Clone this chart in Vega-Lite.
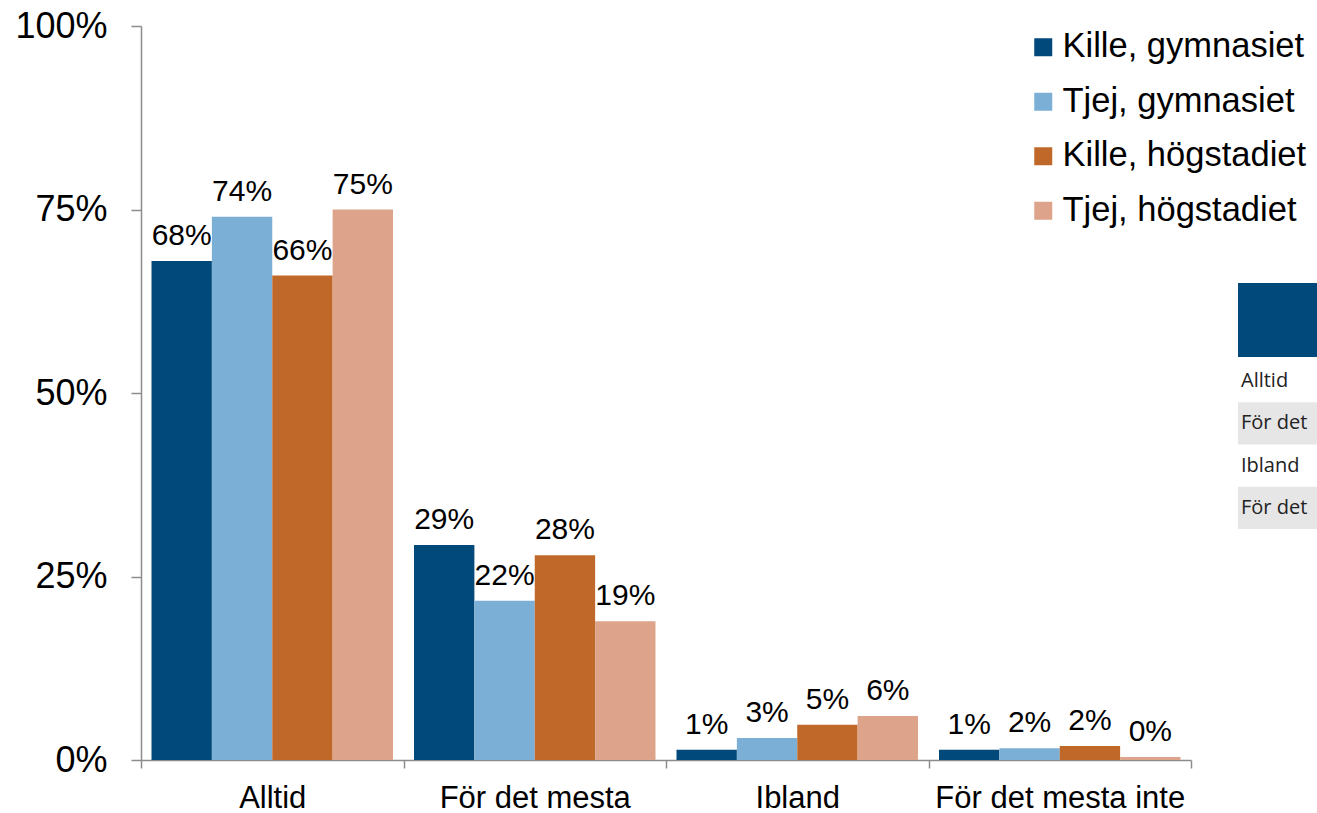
{
  "$schema": "https://vega.github.io/schema/vega-lite/v6.json",
  "background": "white",
  "padding": {"left": 14, "top": 8, "right": 0, "bottom": 0},
  "config": {"view": {"stroke": null}, "font": "Liberation Sans"},
  "bounds": "flush",
  "spacing": 47,
  "resolve": {"scale": {"color": "independent"}, "legend": {"color": "independent"}},
  "hconcat": [
    {
      "width": 1050,
      "height": 734,
      "data": {
        "values": [
          {"svar": "Alltid", "grupp": "Kille, gymnasiet", "andel": 0.68},
          {"svar": "Alltid", "grupp": "Tjej, gymnasiet", "andel": 0.74},
          {"svar": "Alltid", "grupp": "Kille, högstadiet", "andel": 0.66},
          {"svar": "Alltid", "grupp": "Tjej, högstadiet", "andel": 0.75},
          {"svar": "För det mesta", "grupp": "Kille, gymnasiet", "andel": 0.293},
          {"svar": "För det mesta", "grupp": "Tjej, gymnasiet", "andel": 0.217},
          {"svar": "För det mesta", "grupp": "Kille, högstadiet", "andel": 0.279},
          {"svar": "För det mesta", "grupp": "Tjej, högstadiet", "andel": 0.189},
          {"svar": "Ibland", "grupp": "Kille, gymnasiet", "andel": 0.014},
          {"svar": "Ibland", "grupp": "Tjej, gymnasiet", "andel": 0.03},
          {"svar": "Ibland", "grupp": "Kille, högstadiet", "andel": 0.048},
          {"svar": "Ibland", "grupp": "Tjej, högstadiet", "andel": 0.06},
          {"svar": "För det mesta inte", "grupp": "Kille, gymnasiet", "andel": 0.014},
          {"svar": "För det mesta inte", "grupp": "Tjej, gymnasiet", "andel": 0.016},
          {"svar": "För det mesta inte", "grupp": "Kille, högstadiet", "andel": 0.019},
          {"svar": "För det mesta inte", "grupp": "Tjej, högstadiet", "andel": 0.004}
        ]
      },
      "encoding": {
        "x": {
          "field": "svar",
          "type": "nominal",
          "sort": ["Alltid", "För det mesta", "Ibland", "För det mesta inte"],
          "scale": {"paddingInner": 0, "paddingOuter": 0},
          "axis": {
            "title": null,
            "labelAngle": 0,
            "labelFontSize": 31,
            "labelColor": "black",
            "labelPadding": 15,
            "labelLimit": 400,
            "tickBand": "extent",
            "tickSize": 8,
            "tickColor": "#8c8c8c",
            "domainColor": "#8c8c8c",
            "domainWidth": 1.5,
            "tickWidth": 1.5
          }
        },
        "xOffset": {
          "field": "grupp",
          "type": "nominal",
          "sort": ["Kille, gymnasiet", "Tjej, gymnasiet", "Kille, högstadiet", "Tjej, högstadiet"],
          "scale": {"paddingInner": 0, "paddingOuter": 0.174}
        },
        "y": {
          "field": "andel",
          "type": "quantitative",
          "scale": {"domain": [0, 1]},
          "axis": {
            "title": null,
            "values": [0, 0.25, 0.5, 0.75, 1],
            "format": ".0%",
            "grid": false,
            "labelFontSize": 36,
            "labelColor": "black",
            "labelPadding": 24,
            "tickSize": 10,
            "tickColor": "#8c8c8c",
            "domainColor": "#8c8c8c",
            "domainWidth": 1.5,
            "tickWidth": 1.5
          }
        }
      },
      "layer": [
        {
          "mark": {"type": "bar"},
          "encoding": {
            "color": {
              "field": "grupp",
              "type": "nominal",
              "sort": ["Kille, gymnasiet", "Tjej, gymnasiet", "Kille, högstadiet", "Tjej, högstadiet"],
              "scale": {
                "domain": ["Kille, gymnasiet", "Tjej, gymnasiet", "Kille, högstadiet", "Tjej, högstadiet"],
                "range": ["#01497a", "#7bafd5", "#c0682a", "#dda48b"]
              },
              "legend": {
                "title": null,
                "orient": "none",
                "legendX": 885,
                "legendY": 4,
                "padding": 0,
                "symbolType": "square",
                "symbolSize": 324,
                "symbolStrokeWidth": 0,
                "labelFontSize": 34.5,
                "labelColor": "black",
                "labelOffset": 2,
                "rowPadding": 19.5,
                "labelLimit": 400
              }
            }
          }
        },
        {
          "mark": {"type": "text", "baseline": "alphabetic", "dy": -16, "fontSize": 30, "color": "black"},
          "encoding": {"text": {"field": "andel", "type": "quantitative", "format": ".0%"}}
        }
      ]
    },
    {
      "bounds": "flush",
      "spacing": 3,
      "vconcat": [
        {"width": 80, "height": 254, "data": {"values": []}, "mark": "rect"},
        {
          "width": 80,
          "height": 74,
          "data": {"values": [{"del": "ruta"}]},
          "mark": {"type": "rect", "color": "#01497a"}
        },
        {
          "width": 80,
          "height": 169,
          "data": {
            "values": [
              {"nr": 1, "rad": "Alltid", "skuggad": false},
              {"nr": 2, "rad": "För det", "skuggad": true},
              {"nr": 3, "rad": "Ibland", "skuggad": false},
              {"nr": 4, "rad": "För det", "skuggad": true}
            ]
          },
          "encoding": {
            "y": {"field": "nr", "type": "ordinal", "axis": null, "scale": {"padding": 0}}
          },
          "layer": [
            {
              "transform": [{"filter": "datum.skuggad"}],
              "mark": {"type": "rect", "color": "#e7e6e6"}
            },
            {
              "mark": {"type": "text", "align": "left", "dx": 3, "fontSize": 20, "font": "Open Sans", "color": "#222222"},
              "encoding": {"text": {"field": "rad"}, "x": {"value": 0}}
            }
          ]
        }
      ]
    }
  ]
}
